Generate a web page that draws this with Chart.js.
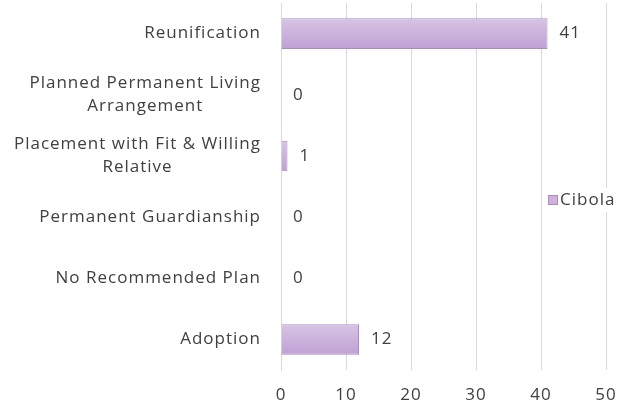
<!DOCTYPE html>
<html>
<head>
<meta charset="utf-8">
<script src="https://cdn.jsdelivr.net/npm/chart.js@4.4.1/dist/chart.umd.min.js"></script>
<style>
html,body{margin:0;padding:0;background:#fff;}
#wrap{width:632px;height:408px;position:relative;}
</style>
</head>
<body>
<div id="wrap"><canvas id="c" width="632" height="408"></canvas></div>
<script>
const categories = [
  ["Reunification"],
  ["Planned Permanent Living", "Arrangement"],
  ["Placement with Fit & Willing", "Relative"],
  ["Permanent Guardianship"],
  ["No Recommended Plan"],
  ["Adoption"]
];
const seriesName = "Cibola";
const seriesValues = [41, 0, 1, 0, 0, 12];
const xTicks = [0, 10, 20, 30, 40, 50];

const FONT = "17px 'Open Sans', sans-serif";
const SPACING = "1px";
const TEXT = "#404040";
const FILL_TOP = "#d6c4e3";
const FILL_BOT = "#c0a1d5";
const FILL = "#ccb2dd";
const BORDER = "#ab8bc3";

function setText(ctx, align) {
  ctx.font = FONT;
  ctx.fillStyle = TEXT;
  ctx.textBaseline = 'middle';
  ctx.textAlign = align;
  if ('letterSpacing' in ctx) ctx.letterSpacing = SPACING;
}

const textPlugin = {
  id: 'texts',
  afterDraw(chart) {
    const ctx = chart.ctx;
    const y = chart.scales.y;
    const x = chart.scales.x;
    ctx.save();
    setText(ctx, 'left');
    // category labels: block right-aligned, lines centred within block
    const right = 261, lh = 23;
    categories.forEach((lines, i) => {
      const cy = y.getPixelForValue(i);
      const widths = lines.map(l => ctx.measureText(l).width);
      const w = Math.max(...widths);
      const top = cy - (lines.length - 1) * lh / 2;
      lines.forEach((l, k) => ctx.fillText(l, right - w + (w - widths[k]) / 2, top + k * lh));
    });
    // x tick labels
    setText(ctx, 'center');
    xTicks.forEach(v => ctx.fillText(String(v), x.getPixelForValue(v), 395));
    // value labels
    setText(ctx, 'left');
    const meta = chart.getDatasetMeta(0);
    meta.data.forEach((bar, i) => {
      ctx.fillText(String(seriesValues[i]), bar.x + 12, bar.y);
    });
    // legend
    const ds = chart.data.datasets[0];
    ctx.fillStyle = '#fff';
    ctx.fillRect(544, 188, 82, 24);
    ctx.fillStyle = FILL;
    ctx.fillRect(548.5, 195.5, 9, 9);
    ctx.strokeStyle = ds.borderColor;
    ctx.lineWidth = 1;
    ctx.strokeRect(548.5, 195.5, 9, 9);
    setText(ctx, 'left');
    ctx.fillText(ds.label, 560, 200);
    ctx.restore();
  }
};

new Chart(document.getElementById('c'), {
  type: 'bar',
  data: {
    labels: categories.map(c => c.join(' ')),
    datasets: [{
      label: seriesName,
      data: seriesValues,
      backgroundColor(context) {
        const chart = context.chart;
        const ys = chart.scales.y;
        if (!ys || context.dataIndex === undefined) return FILL;
        const cy = ys.getPixelForValue(context.dataIndex);
        if (!isFinite(cy)) return FILL;
        const g = chart.ctx.createLinearGradient(0, cy - 15, 0, cy + 15);
        g.addColorStop(0, FILL_TOP);
        g.addColorStop(1, FILL_BOT);
        return g;
      },
      borderColor: BORDER,
      borderWidth: 1,
      barPercentage: 0.5,
      categoryPercentage: 1.0
    }]
  },
  options: {
    indexAxis: 'y',
    responsive: false,
    animation: false,
    devicePixelRatio: 1,
    layout: { padding: { top: 3, right: 26, left: 0, bottom: 0 } },
    plugins: { legend: { display: false }, tooltip: { enabled: false } },
    scales: {
      x: {
        min: 0, max: 50,
        afterBuildTicks(scale) { scale.ticks = xTicks.map(v => ({ value: v })); },
        afterFit(scale) { scale.height = 38; },
        grid: { color: '#d9d9d9', drawTicks: false },
        border: { display: false },
        ticks: { display: false }
      },
      y: {
        afterFit(scale) { scale.width = 281; },
        grid: { display: false },
        border: { display: true, color: '#d9d9d9' },
        ticks: { display: false }
      }
    }
  },
  plugins: [textPlugin]
});
</script>
</body>
</html>
